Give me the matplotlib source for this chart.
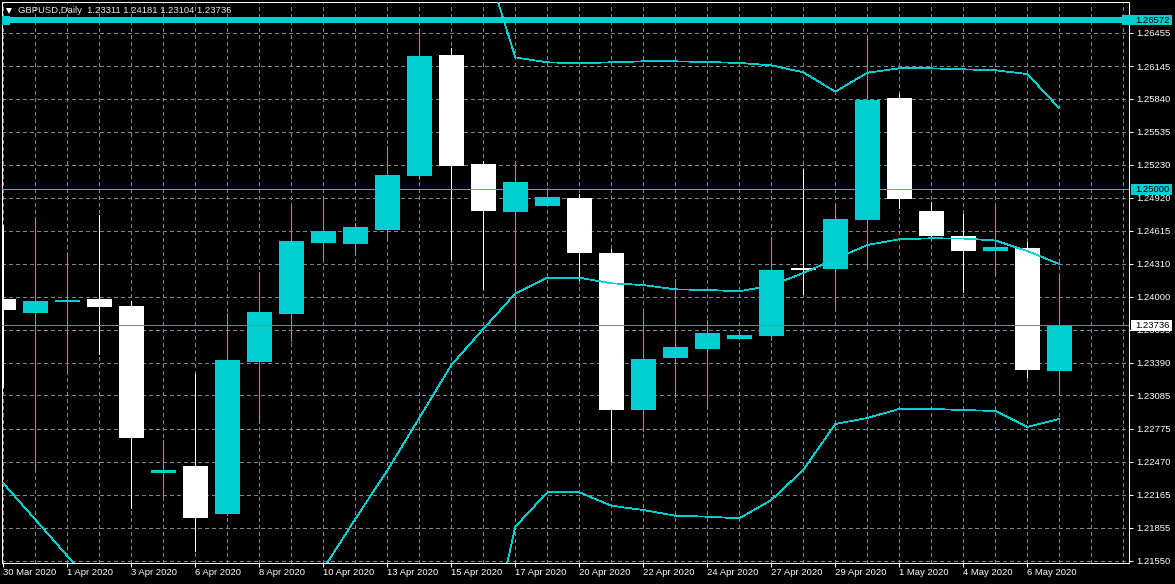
import matplotlib
matplotlib.use('Agg')
import matplotlib.pyplot as plt
from matplotlib.patches import Rectangle
from matplotlib.transforms import blended_transform_factory
import numpy as np

# ---------------- data ----------------
dates = ['30 Mar 2020', '31 Mar 2020', '1 Apr 2020', '2 Apr 2020', '3 Apr 2020', '5 Apr 2020',
         '6 Apr 2020', '7 Apr 2020', '8 Apr 2020', '9 Apr 2020', '10 Apr 2020', '12 Apr 2020',
         '13 Apr 2020', '14 Apr 2020', '15 Apr 2020', '16 Apr 2020', '17 Apr 2020', '19 Apr 2020',
         '20 Apr 2020', '21 Apr 2020', '22 Apr 2020', '23 Apr 2020', '24 Apr 2020', '26 Apr 2020',
         '27 Apr 2020', '28 Apr 2020', '29 Apr 2020', '30 Apr 2020', '1 May 2020', '3 May 2020',
         '4 May 2020', '5 May 2020', '6 May 2020', '7 May 2020']

opens = [1.23981, 1.23851, 1.23953, 1.23981, 1.23916, 1.22368, 1.22430, 1.21987, 1.23396, 1.23845,
         1.24504, 1.24495, 1.24622, 1.25124, 1.26251, 1.25235, 1.24790, 1.24848, 1.24920, 1.24406,
         1.22953, 1.23436, 1.23520, 1.23613, 1.23640, 1.24265, 1.24263, 1.24718, 1.25848, 1.24799,
         1.24567, 1.24430, 1.24455, 1.23311]
highs = [1.24669, 1.24725, 1.24399, 1.24764, 1.23963, 1.22672, 1.23282, 1.23851, 1.24232, 1.24848,
         1.24901, 1.24685, 1.25403, 1.26480, 1.26313, 1.25266, 1.25235, 1.25015, 1.24957, 1.24446,
         1.23861, 1.24170, 1.23784, 1.23684, 1.24560, 1.25189, 1.24855, 1.26412, 1.25883, 1.24882,
         1.24774, 1.24845, 1.24511, 1.24181]
lows = [1.23167, 1.22414, 1.23294, 1.23470, 1.22037, 1.22151, 1.21641, 1.21975, 1.22867, 1.23591,
        1.24362, 1.24418, 1.24534, 1.25096, 1.24353, 1.24074, 1.23712, 1.24845, 1.24158, 1.22474,
        1.22755, 1.23074, 1.22981, 1.23613, 1.23596, 1.24028, 1.23879, 1.24269, 1.24827, 1.24557,
        1.24046, 1.24198, 1.23260, 1.23104]
closes = [1.23879, 1.23963, 1.23975, 1.23907, 1.22690, 1.22393, 1.21950, 1.23415, 1.23861, 1.24520,
          1.24613, 1.24650, 1.25133, 1.26241, 1.25217, 1.24799, 1.25068, 1.24929, 1.24411, 1.22953,
          1.23424, 1.23535, 1.23666, 1.23647, 1.24251, 1.24255, 1.24725, 1.25830, 1.24913, 1.24567,
          1.24430, 1.24464, 1.23322, 1.23736]

# Bollinger bands (20)
bb_upper = [1.3050, 1.3040, 1.3030, 1.3010, 1.2995, 1.2980, 1.2960, 1.2940, 1.2920, 1.2900,
            1.2880, 1.2860, 1.2830, 1.2790, 1.2750, 1.27177, 1.26226, 1.26180, 1.26171, 1.26180,
            1.26189, 1.26189, 1.26183, 1.26174, 1.26152, 1.26087, 1.25907, 1.26083, 1.26124, 1.26124,
            1.26115, 1.26106, 1.26071, 1.25753]
bb_middle = [1.22269, 1.21933, 1.21594, 1.21260, 1.2100, 1.2085, 1.2075, 1.2075, 1.2085, 1.2110,
             1.21473, 1.21938, 1.22388, 1.22876, 1.23368, 1.23703, 1.24032, 1.24179, 1.24179, 1.24127,
             1.24111, 1.24071, 1.24065, 1.24053, 1.24106, 1.24223, 1.24353, 1.24483, 1.24536, 1.24545,
             1.24543, 1.24525, 1.24427, 1.24306]
bb_lower = [1.1500, 1.1510, 1.1520, 1.1535, 1.1550, 1.1570, 1.1590, 1.1610, 1.1640, 1.1670,
            1.1710, 1.1750, 1.1800, 1.1860, 1.1930, 1.20535, 1.21866, 1.22186, 1.22186, 1.22061,
            1.22021, 1.21968, 1.21959, 1.21944, 1.22114, 1.22393, 1.22820, 1.22876, 1.22960, 1.22960,
            1.22950, 1.22941, 1.22792, 1.22867]

ytick_labels = ['1.26455', '1.26145', '1.25840', '1.25535', '1.25230', '1.24920', '1.24615', '1.24310',
                '1.24000', '1.23695', '1.23390', '1.23085', '1.22775', '1.22470', '1.22165', '1.21855',
                '1.21550']

symbol_title = 'GBPUSD,Daily  1.23311 1.24181 1.23104 1.23736'
hline_thick = 1.26572
hline_thin = 1.25000
bid_price = 1.23736

# ---------------- style ----------------
W, H = 1175, 584
BULL = '#00CED1'
BEAR = '#FFFFFF'
GRID = '#778899'
FONT = 'Liberation Sans'
FS = 6.8
PX = 0.72  # one pixel in points

plt.rcParams['font.family'] = [FONT, 'DejaVu Sans']

fig = plt.figure(figsize=(W / 100, H / 100), dpi=100, facecolor='black')
ax_l, ax_r, ax_t, ax_b = 2.3, 1129.3, 2.3, 563.0
ax = fig.add_axes([ax_l / W, 1 - ax_b / H, (ax_r - ax_l) / W, (ax_b - ax_t) / H])
ax.set_facecolor('black')

n = len(dates)
x = np.arange(n)
ax.set_xlim(-1 / 32, (ax_r - 3.3) / 32)
ax.set_ylim(1.215288, 1.267374)
ppu = (ax_b - ax_t) / (1.267374 - 1.215288)  # pixels per price unit

# grid
ax.set_axisbelow(True)
ax.set_xticks(np.arange(0, n, 2))
ax.set_xticklabels([dates[i] for i in range(0, n, 2)])
ax.set_xticks(np.arange(0, 36), minor=True)
ax.set_yticks([float(s) for s in ytick_labels])
ax.set_yticklabels(ytick_labels)
ax.grid(True, which='both', axis='x', color=GRID, linestyle=(0, (3, 3)), linewidth=PX,
        antialiased=False)
ax.grid(True, which='major', axis='y', color=GRID, linestyle=(0, (3, 3)), linewidth=PX,
        antialiased=False)

ax.yaxis.tick_right()
ax.tick_params(axis='x', which='major', direction='out', length=4 * PX, width=PX, color='white',
               labelcolor='white', labelsize=FS, pad=1)
ax.tick_params(axis='x', which='minor', length=0)
ax.tick_params(axis='y', direction='out', length=4 * PX, width=PX, color='white',
               labelcolor='white', labelsize=FS, pad=2)
for lbl in ax.get_xticklabels():
    lbl.set_ha('left')
for sp in ax.spines.values():
    sp.set_color('white')
    sp.set_linewidth(PX)

# candles
min_h = 1.0 / ppu
for i in range(n):
    o, h, l, c = opens[i], highs[i], lows[i], closes[i]
    col = BULL if c >= o else BEAR
    ax.vlines(x[i], l, h, colors=col, linewidth=PX, antialiased=False, zorder=3)
    ax.bar(x[i], max(abs(c - o), min_h), bottom=min(o, c), width=0.78, color=col,
           linewidth=0, antialiased=False, zorder=4)

# bollinger bands
for band in (bb_upper, bb_middle, bb_lower):
    ax.plot(x, band, color=BULL, linewidth=0.55, antialiased=False, zorder=5)

# horizontal lines
ax.axhline(bid_price, color=GRID, linewidth=PX, antialiased=False, zorder=5)
ax.axhline(hline_thin, color=BULL, linewidth=PX, antialiased=False, zorder=5)
ax.axhline(hline_thick, color=BULL, linewidth=6 * PX, antialiased=False, zorder=6)

tr = blended_transform_factory(ax.transAxes, ax.transData)
aw = ax_r - ax_l
# anchor square at the left end of the thick line
ax.add_patch(Rectangle(((1.7 - ax_l) / aw, hline_thick - 4.5 / ppu), 8.5 / aw, 9 / ppu,
                       transform=tr, facecolor=BULL, edgecolor='none', clip_on=False, zorder=7))

# price label boxes on the right axis
boxes = [(hline_thick, 1121.7, BULL), (hline_thin, 1131.0, BULL), (bid_price, 1131.0, 'white')]
for price, x0, fc in boxes:
    ax.add_patch(Rectangle(((x0 - ax_l) / aw, price - 5.3 / ppu), (1171.7 - x0) / aw, 10.6 / ppu,
                           transform=tr, facecolor=fc, edgecolor='none', clip_on=False, zorder=10))
    ax.text((1135 - ax_l) / aw, price, f'{price:.5f}', transform=tr, ha='left', va='center',
            fontsize=FS, color='black', zorder=11, clip_on=False)

# title
ax.plot([(9 - ax_l) / aw], [1 - (10.7 - ax_t) / (ax_b - ax_t)], marker='v', markersize=4.6,
        color='white', markeredgewidth=0, transform=ax.transAxes, clip_on=False, zorder=12)
fig.text(18 / W, 1 - 10.7 / H, symbol_title, ha='left', va='center', fontsize=FS, color='#E8E8E8')

fig.savefig('out.png', dpi=100, facecolor='black')
